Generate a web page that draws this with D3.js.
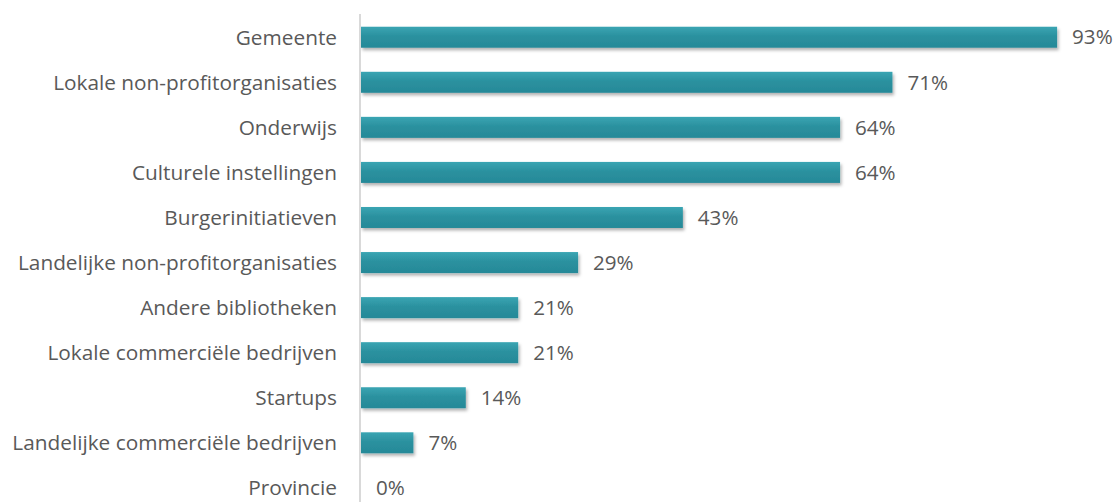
<!DOCTYPE html>
<html>
<head>
<meta charset="utf-8">
<script src="https://cdn.jsdelivr.net/npm/d3@7"></script>
<style>
  body { margin: 0; background: #fff; }
  text { font-family: "Open Sans", sans-serif; fill: #595959; }
</style>
</head>
<body>
<svg id="chart" width="1117" height="502"></svg>
<script>
const categories = [
  'Gemeente', 'Lokale non-profitorganisaties', 'Onderwijs', 'Culturele instellingen',
  'Burgerinitiatieven', 'Landelijke non-profitorganisaties', 'Andere bibliotheken',
  'Lokale commerciële bedrijven', 'Startups', 'Landelijke commerciële bedrijven', 'Provincie'
];
const values = [93, 71, 64, 64, 43, 29, 21, 21, 14, 7, 0];

const svg = d3.select('#chart');
const x0 = 361;

const x = d3.scaleLinear().domain([0, 100]).range([x0, 1109.5]);
const y = d3.scaleBand()
  .domain(categories)
  .range([14.7, 510.4])
  .paddingInner(0.534)
  .paddingOuter(0.267);

const defs = svg.append('defs');
const grad = defs.append('linearGradient')
  .attr('id', 'barGrad').attr('x1', 0).attr('y1', 0).attr('x2', 0).attr('y2', 1);
grad.append('stop').attr('offset', '0%').attr('stop-color', '#3aa5b3');
grad.append('stop').attr('offset', '45%').attr('stop-color', '#2b919f');
grad.append('stop').attr('offset', '100%').attr('stop-color', '#268998');

const shadow = defs.append('filter').attr('id', 'shadow')
  .attr('x', '-5%').attr('y', '-30%').attr('width', '115%').attr('height', '180%');
shadow.append('feDropShadow')
  .attr('dx', 1.5).attr('dy', 2.5).attr('stdDeviation', 1.8)
  .attr('flood-color', '#000').attr('flood-opacity', 0.3);

svg.selectAll('rect.bar')
  .data(values)
  .enter()
    .append('rect')
    .attr('class', 'bar')
    .attr('x', x(0))
    .attr('y', (d, i) => y(categories[i]))
    .attr('width', d => x(d) - x(0))
    .attr('height', y.bandwidth())
    .attr('fill', 'url(#barGrad)')
    .attr('filter', 'url(#shadow)')
    .style('display', d => d > 0 ? null : 'none');

// vertical axis line
svg.append('line')
  .attr('x1', x0 - 1).attr('x2', x0 - 1)
  .attr('y1', 14).attr('y2', 502)
  .attr('stroke', '#d9d9d9').attr('stroke-width', 2);

// category labels
svg.selectAll('text.cat')
  .data(categories)
  .enter()
    .append('text')
    .attr('class', 'cat')
    .attr('x', 337)
    .attr('y', d => y(d) + y.bandwidth() / 2)
    .attr('dy', '0.35em')
    .attr('text-anchor', 'end')
    .style('font-size', '20.8px')
    .text(d => d);

// value labels
svg.selectAll('text.val')
  .data(values)
  .enter()
    .append('text')
    .attr('class', 'val')
    .attr('x', d => x(d) + 15)
    .attr('y', (d, i) => y(categories[i]) + y.bandwidth() / 2)
    .attr('dy', '0.35em')
    .style('font-size', '20.6px')
    .text(d => d + '%');
</script>
</body>
</html>
